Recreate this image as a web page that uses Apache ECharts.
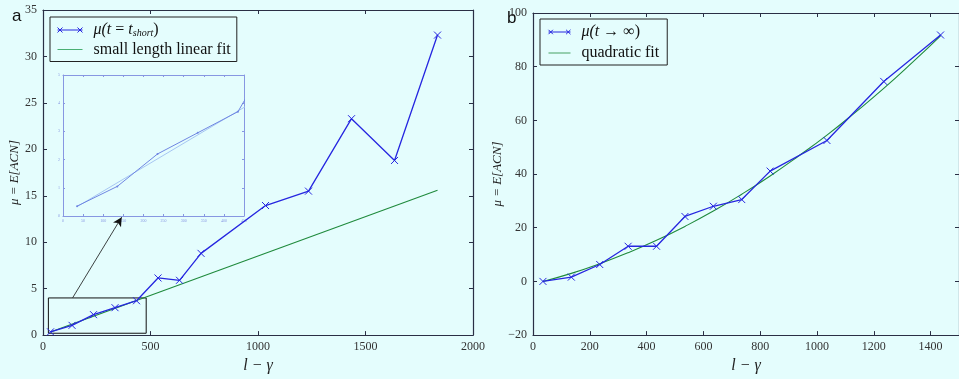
<!DOCTYPE html>
<html>
<head>
<meta charset="utf-8">
<script src="https://cdn.jsdelivr.net/npm/echarts@6/dist/echarts.min.js"></script>
<style>
html,body{margin:0;padding:0;background:#e4fdfd;}
#c{width:959px;height:379px;}
</style>
</head>
<body>
<div id="c"></div>
<script>
// ---- data ----
const xShort = [35, 135, 235, 335, 435, 535, 635, 735, 1035, 1235, 1435, 1635, 1835];
const muShort = [0.35, 1.05, 2.2, 2.95, 3.7, 6.15, 5.9, 8.8, 13.95, 15.5, 23.3, 18.8, 32.3];
const fitLinX = [35, 1835];
const fitLinY = [0.33, 15.6];

const xInf = [35, 135, 235, 335, 435, 535, 635, 735, 835, 1035, 1235, 1435];
const muInf = [0, 1.6, 6.3, 13.1, 13.1, 24.2, 28.0, 30.5, 41.1, 52.5, 74.5, 91.8];
const fitQuadX = [35, 135, 235, 335, 435, 535, 635, 735, 835, 935, 1035, 1135, 1235, 1335, 1435];
const fitQuadY = [0, 3.0, 6.6, 10.7, 15.3, 20.5, 26.2, 32.5, 39.3, 46.7, 54.5, 63.0, 71.9, 81.5, 91.5];

// zoom box and arrow annotation (data coordinates of panel a)
const zoomBox = [[25, 0.2], [480, 4.0]];
const arrowLine = [[138, 4.02], [366, 12.7]];

const nameShort = 'μ(t = t_short)';
const nameLin = 'small length linear fit';
const nameInf = 'μ(t → ∞)';
const nameQuad = 'quadratic fit';

// ---- styles ----
const SERIF = '"Liberation Serif","DejaVu Serif",serif';
const BLUE = '#2626e0';
const GREEN = '#1f8a3c';
const AX = '#2a2f45';
const INSET_AX = '#8797e2';
const XSYM = 'path://M0,0L10,10M10,0L0,10';
const BG = '#e4fdfd';

const zip = (a, b) => a.map((v, i) => [v, b[i]]);
const numFmt = v => (v < 0 ? '\u2212' + String(-v) : String(v));

function axisBase(extra) {
  return Object.assign({
    type: 'value',
    axisLine: { show: true, onZero: false, lineStyle: { color: AX, width: 1.2 } },
    axisTick: { show: true, inside: true, length: 4, lineStyle: { color: AX } },
    axisLabel: { show: true, color: '#333', fontFamily: SERIF, fontSize: 12, margin: 6, formatter: numFmt },
    splitLine: { show: false }
  }, extra);
}
function hiddenLabels(a) {
  a.axisLabel = Object.assign({}, a.axisLabel, { show: false });
  return a;
}
function insetAxis(extra) {
  return Object.assign({
    type: 'value',
    axisLine: { show: true, onZero: false, lineStyle: { color: INSET_AX, width: 1 } },
    axisTick: { show: true, inside: true, length: 2, lineStyle: { color: INSET_AX } },
    axisLabel: { show: true, color: INSET_AX, fontFamily: SERIF, fontSize: 4, margin: 3, interval: 0, formatter: numFmt },
    splitLine: { show: false }
  }, extra);
}

const legendText = {
  color: '#111', fontFamily: SERIF, fontSize: 16,
  rich: {
    i: { fontStyle: 'italic', fontFamily: SERIF, fontSize: 16, color: '#111' },
    i0: { fontStyle: 'italic', fontFamily: SERIF, fontSize: 16, color: '#111', padding: [0, 0, 0, 6] },
    n: { fontFamily: SERIF, fontSize: 16, color: '#111' },
    n0: { fontFamily: SERIF, fontSize: 16, color: '#111', padding: [0, 0, 0, 6] },
    s: { fontStyle: 'italic', fontFamily: SERIF, fontSize: 10, color: '#111', padding: [7, 0, 0, 0] }
  }
};
function legendFormatter(name) {
  if (name === nameShort) return '{i0|μ(t}{n| = }{i|t}{s|short}{n|)}';
  if (name === nameInf) return '{i0|μ(t}{n| → ∞)}';
  return '{n0|' + name + '}';
}
const blueIcon = 'path://M0,6L30,6M0,3L6,9M0,9L6,3M24,3L30,9M24,9L30,3';
const greenIcon = 'path://M0,0L30,0L30,1.1L0,1.1Z';
const nameStyle = { fontFamily: SERIF, fontStyle: 'italic', fontSize: 16, color: '#222' };
const yNameStyle = { fontFamily: SERIF, fontStyle: 'italic', fontSize: 13, color: '#222' };

const option = {
  animation: false,
  backgroundColor: BG,
  grid: [
    { left: 43, top: 10, width: 430, height: 337 },
    { left: 533, top: 13, width: 430, height: 336 },
    { left: 63, top: 75, width: 181, height: 141 }
  ],
  xAxis: [
    axisBase({ gridIndex: 0, min: 0, max: 2000, interval: 500, position: 'bottom',
      name: 'l − γ', nameLocation: 'middle', nameGap: 22, nameTextStyle: nameStyle }),
    hiddenLabels(axisBase({ gridIndex: 0, min: 0, max: 2000, interval: 500, position: 'top' })),
    axisBase({ gridIndex: 1, min: 0, max: 1500, interval: 200, position: 'bottom',
      axisLabel: { show: true, color: '#333', fontFamily: SERIF, fontSize: 12, margin: 6, showMaxLabel: false, formatter: numFmt },
      name: 'l − γ', nameLocation: 'middle', nameGap: 21, nameTextStyle: nameStyle }),
    hiddenLabels(axisBase({ gridIndex: 1, min: 0, max: 1500, interval: 200, position: 'top' })),
    insetAxis({ gridIndex: 2, min: 0, max: 450, interval: 50, position: 'bottom' }),
    hiddenLabels(insetAxis({ gridIndex: 2, min: 0, max: 450, interval: 50, position: 'top' }))
  ],
  yAxis: [
    axisBase({ gridIndex: 0, min: 0, max: 35, interval: 5, position: 'left',
      name: 'μ = E[ACN]', nameLocation: 'middle', nameGap: 19, nameTextStyle: yNameStyle }),
    hiddenLabels(axisBase({ gridIndex: 0, min: 0, max: 35, interval: 5, position: 'right' })),
    axisBase({ gridIndex: 1, min: -20, max: 100, interval: 20, position: 'left',
      name: 'μ = E[ACN]', nameLocation: 'middle', nameGap: 27, nameTextStyle: yNameStyle }),
    hiddenLabels(axisBase({ gridIndex: 1, min: -20, max: 100, interval: 20, position: 'right' })),
    insetAxis({ gridIndex: 2, min: 0, max: 5, interval: 1, position: 'left' }),
    hiddenLabels(insetAxis({ gridIndex: 2, min: 0, max: 5, interval: 1, position: 'right' }))
  ],
  legend: [
    {
      left: 50, top: 17, orient: 'vertical', itemWidth: 25, itemHeight: 12, itemGap: 3,
      padding: [5, 6, 4, 7], borderColor: '#222', borderWidth: 1, backgroundColor: BG,
      selectedMode: false, textStyle: legendText, formatter: legendFormatter,
      data: [
        { name: nameShort, icon: blueIcon, itemStyle: { color: 'transparent', borderColor: BLUE, borderWidth: 1 } },
        { name: nameLin, icon: greenIcon, itemStyle: { color: '#3aa866', borderWidth: 0 } }
      ]
    },
    {
      left: 540, top: 19, orient: 'vertical', itemWidth: 22, itemHeight: 12, itemGap: 5,
      padding: [5, 8, 4, 8], borderColor: '#222', borderWidth: 1, backgroundColor: BG,
      selectedMode: false, textStyle: legendText, formatter: legendFormatter,
      data: [
        { name: nameInf, icon: blueIcon, itemStyle: { color: 'transparent', borderColor: BLUE, borderWidth: 1 } },
        { name: nameQuad, icon: greenIcon, itemStyle: { color: GREEN, borderWidth: 0 } }
      ]
    }
  ],
  graphic: [
    { type: 'text', left: 12, top: 8, style: { text: 'a', font: '17px "Liberation Sans", Arial, sans-serif', fill: '#111' } },
    { type: 'text', left: 507, top: 10, style: { text: 'b', font: '17px "Liberation Sans", Arial, sans-serif', fill: '#111' } }
  ],
  series: [
    {
      name: nameLin, type: 'line', xAxisIndex: 0, yAxisIndex: 0, data: zip(fitLinX, fitLinY),
      showSymbol: false, symbol: 'none', lineStyle: { color: GREEN, width: 1.1 }, itemStyle: { color: GREEN },
      silent: true, z: 2,
      markArea: {
        silent: true,
        itemStyle: { color: 'rgba(0,0,0,0)', borderColor: '#111', borderWidth: 1 },
        label: { show: false },
        data: [[{ coord: zoomBox[0] }, { coord: zoomBox[1] }]]
      },
      markLine: {
        silent: true, symbol: ['none', 'arrow'], symbolSize: [7, 9],
        lineStyle: { color: '#111', width: 0.8, type: 'solid' },
        label: { show: false },
        data: [[{ coord: arrowLine[0] }, { coord: arrowLine[1] }]]
      }
    },
    {
      name: nameShort, type: 'line', xAxisIndex: 0, yAxisIndex: 0, data: zip(xShort, muShort),
      symbol: XSYM, symbolSize: 7, lineStyle: { color: BLUE, width: 1.3 },
      itemStyle: { color: 'transparent', borderColor: BLUE, borderWidth: 1 }, silent: true, z: 3
    },
    {
      name: nameQuad, type: 'line', xAxisIndex: 2, yAxisIndex: 2, data: zip(fitQuadX, fitQuadY),
      smooth: true, symbol: 'none', lineStyle: { color: GREEN, width: 1.1 }, itemStyle: { color: GREEN }, silent: true, z: 2
    },
    {
      name: nameInf, type: 'line', xAxisIndex: 2, yAxisIndex: 2, data: zip(xInf, muInf),
      symbol: XSYM, symbolSize: 7, lineStyle: { color: BLUE, width: 1.3 },
      itemStyle: { color: 'transparent', borderColor: BLUE, borderWidth: 1 }, silent: true, z: 3
    },
    {
      name: 'inset fit', type: 'line', xAxisIndex: 4, yAxisIndex: 4, data: zip(fitLinX, fitLinY),
      symbol: 'none', clip: true, lineStyle: { color: '#a6c6f2', width: 1 }, silent: true, z: 2
    },
    {
      name: 'inset data', type: 'line', xAxisIndex: 4, yAxisIndex: 4, data: zip(xShort, muShort),
      symbol: 'circle', symbolSize: 2, clip: true, lineStyle: { color: '#6f86e2', width: 1 },
      itemStyle: { color: '#6f86e2' }, silent: true, z: 3
    }
  ]
};

const chart = echarts.init(document.getElementById('c'), null, { renderer: 'canvas' });
chart.setOption(option);
</script>
</body>
</html>
